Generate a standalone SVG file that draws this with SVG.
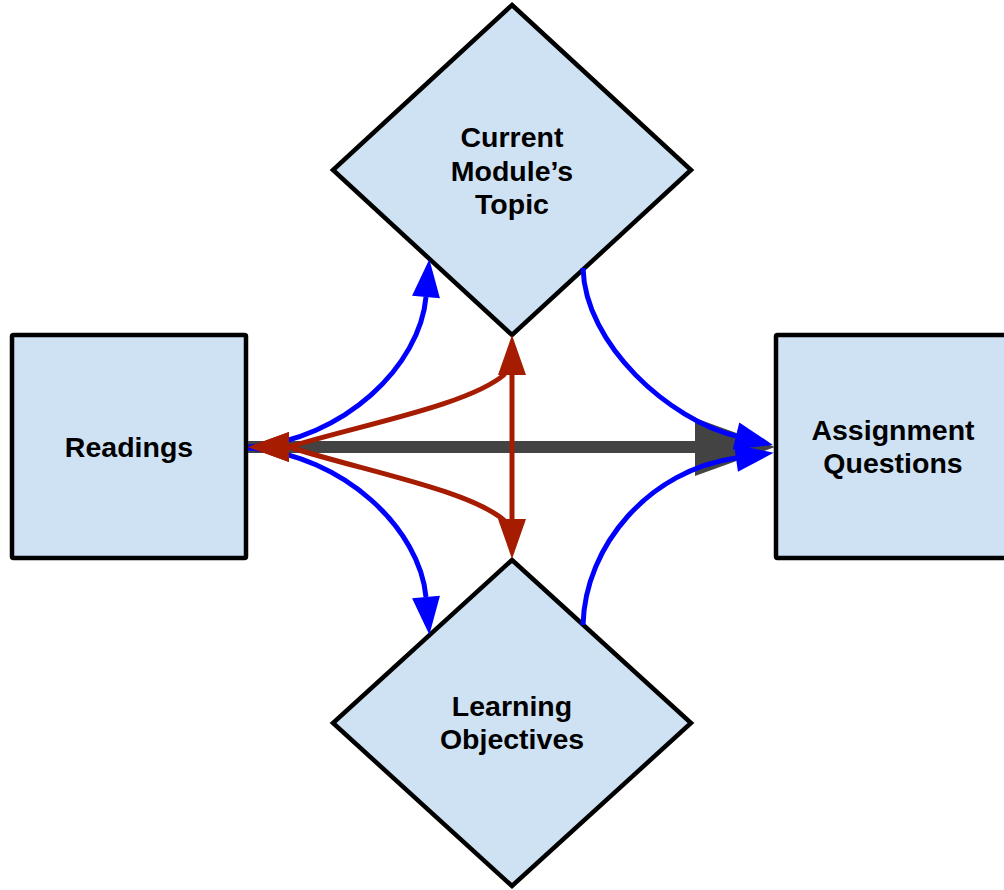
<svg xmlns="http://www.w3.org/2000/svg" width="1004" height="890" viewBox="0 0 1004 890">
  <style>
    .node { fill: #cfe2f3; stroke: #000000; stroke-width: 4.5; stroke-linejoin: miter; }
    .label { font-family: "Liberation Sans", Arial, sans-serif; font-weight: bold; font-size: 28.5px; fill: #000000; text-anchor: middle; }
    .link { fill: none; stroke-linecap: butt; }
    .blue { stroke: #0000ff; stroke-width: 5; }
    .red { stroke: #a61c00; stroke-width: 5; }
    .gray { stroke: #434343; stroke-width: 12; }
  </style>
  <defs>
    <!-- arrowheads: reference point sits on the base, the tip extends forward -->
    <marker id="head-blue" markerUnits="userSpaceOnUse" markerWidth="40" markerHeight="30" refX="0" refY="14" orient="auto" overflow="visible">
      <path d="M0,0 L38,14 L0,28 Z" fill="#0000ff"/>
    </marker>
    <marker id="head-red" markerUnits="userSpaceOnUse" markerWidth="42" markerHeight="30" refX="0" refY="14" orient="auto-start-reverse" overflow="visible">
      <path d="M0,0 L40,14 L0,28 Z" fill="#a61c00"/>
    </marker>
    <marker id="head-red-west" markerUnits="userSpaceOnUse" markerWidth="42" markerHeight="32" refX="41" refY="15" orient="0" overflow="visible">
      <path d="M41,0 L0,15 L41,30 Z" fill="#a61c00"/>
    </marker>
    <marker id="head-gray" markerUnits="userSpaceOnUse" markerWidth="82" markerHeight="60" refX="0" refY="29" orient="auto" overflow="visible">
      <path d="M0,0 L80,29 L0,58 Z" fill="#434343"/>
    </marker>
  </defs>

  <g id="readings">
    <rect class="node" x="12" y="335" width="234" height="223" rx="1.5"/>
    <text class="label" x="129" y="457">Readings</text>
  </g>

  <g id="assignment-questions">
    <rect class="node" x="776" y="335" width="236" height="223" rx="1.5"/>
    <text class="label" x="893" y="440">Assignment</text>
    <text class="label" x="893" y="473">Questions</text>
  </g>

  <g id="module-topic">
    <polygon class="node" points="512,5 691,170 512,335 333,170"/>
    <text class="label" x="512" y="147">Current</text>
    <text class="label" x="512" y="181">Module’s</text>
    <text class="label" x="512" y="214">Topic</text>
  </g>

  <g id="learning-objectives">
    <polygon class="node" points="512,560 691,723 512,886 333,723"/>
    <text class="label" x="512" y="716">Learning</text>
    <text class="label" x="512" y="749">Objectives</text>
  </g>

  <g id="connectors">
    <!-- main flow: Readings to Assignment Questions -->
    <path class="link gray" d="M248,447 L695,447" marker-end="url(#head-gray)"/>

    <!-- blue links -->
    <path class="link blue" d="M248,447 C345,440 420,365 426,297" marker-end="url(#head-blue)"/>
    <path class="link blue" d="M248,448 C345,455 420,530 426,597" marker-end="url(#head-blue)"/>
    <path class="link blue" d="M583,268 C585,345 670,420 736,436" marker-end="url(#head-blue)"/>
    <path class="link blue" d="M583,625 C585,545 650,470 736,458" marker-end="url(#head-blue)"/>

    <!-- red links -->
    <path class="link red" d="M289,447 C360,425 470,405 505,374" marker-start="url(#head-red-west)"/>
    <path class="link red" d="M289,447 C360,470 470,490 505,521" marker-start="url(#head-red-west)"/>
    <path class="link red" d="M512,375 L512,519" marker-start="url(#head-red)" marker-end="url(#head-red)"/>
  </g>
</svg>
